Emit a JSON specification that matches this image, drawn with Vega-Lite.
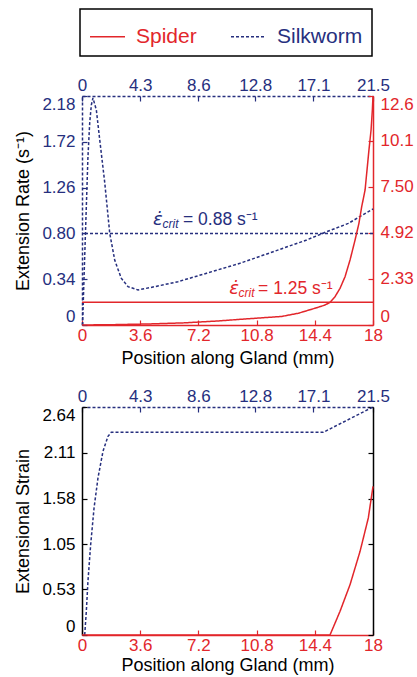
{
  "$schema": "https://vega.github.io/schema/vega-lite/v6.json",
  "padding": {"left": 14, "top": 8, "right": 2, "bottom": 1},
  "background": "white",
  "config": {
    "view": {"stroke": null},
    "font": "Liberation Sans",
    "axis": {"labelFont": "Liberation Sans", "labelFontSize": 17, "titleFont": "Liberation Sans", "titleFontSize": 18, "titleFontWeight": "normal", "titleColor": "black", "grid": false, "tickSize": -5, "domainWidth": 1.5, "tickWidth": 1.2},
    "axisX": {"titlePadding": 6},
    "axisY": {"titlePadding": 9, "labelPadding": 12, "labelFlush": true},
    "axisTop": {"labelPadding": 7},
    "axisBottom": {"labelPadding": 7}
  },
  "datasets": {
    "silkRate": [
      {"pos": 0.04, "rate": -0.12, "species": "Silkworm"},
      {"pos": 0.2, "rate": 0.57, "species": "Silkworm"},
      {"pos": 0.32, "rate": 1.07, "species": "Silkworm"},
      {"pos": 0.44, "rate": 1.57, "species": "Silkworm"},
      {"pos": 0.57, "rate": 1.91, "species": "Silkworm"},
      {"pos": 0.69, "rate": 2.09, "species": "Silkworm"},
      {"pos": 0.81, "rate": 2.16, "species": "Silkworm"},
      {"pos": 1.06, "rate": 2.04, "species": "Silkworm"},
      {"pos": 1.31, "rate": 1.74, "species": "Silkworm"},
      {"pos": 1.68, "rate": 1.31, "species": "Silkworm"},
      {"pos": 2.05, "rate": 0.8, "species": "Silkworm"},
      {"pos": 2.42, "rate": 0.53, "species": "Silkworm"},
      {"pos": 2.9, "rate": 0.35, "species": "Silkworm"},
      {"pos": 3.4, "rate": 0.265, "species": "Silkworm"},
      {"pos": 4.14, "rate": 0.232, "species": "Silkworm"},
      {"pos": 5.37, "rate": 0.265, "species": "Silkworm"},
      {"pos": 7.09, "rate": 0.315, "species": "Silkworm"},
      {"pos": 9.21, "rate": 0.4, "species": "Silkworm"},
      {"pos": 11.67, "rate": 0.5, "species": "Silkworm"},
      {"pos": 14.13, "rate": 0.616, "species": "Silkworm"},
      {"pos": 16.6, "rate": 0.734, "species": "Silkworm"},
      {"pos": 18.08, "rate": 0.817, "species": "Silkworm"},
      {"pos": 19.67, "rate": 0.9, "species": "Silkworm"},
      {"pos": 21.5, "rate": 1.045, "species": "Silkworm"}
    ],
    "spiderRate": [
      {"pos": 0, "rate": -0.26, "species": "Spider"},
      {"pos": 2, "rate": -0.24, "species": "Spider"},
      {"pos": 4.2, "rate": -0.2, "species": "Spider"},
      {"pos": 6.3, "rate": -0.14, "species": "Spider"},
      {"pos": 8.3, "rate": -0.04, "species": "Spider"},
      {"pos": 10.28, "rate": 0.09, "species": "Spider"},
      {"pos": 12.35, "rate": 0.22, "species": "Spider"},
      {"pos": 13.38, "rate": 0.4, "species": "Spider"},
      {"pos": 14.41, "rate": 0.68, "species": "Spider"},
      {"pos": 15.03, "rate": 0.86, "species": "Spider"},
      {"pos": 15.34, "rate": 1.015, "species": "Spider"},
      {"pos": 15.65, "rate": 1.33, "species": "Spider"},
      {"pos": 15.96, "rate": 1.8, "species": "Spider"},
      {"pos": 16.27, "rate": 2.45, "species": "Spider"},
      {"pos": 16.58, "rate": 3.39, "species": "Spider"},
      {"pos": 16.89, "rate": 4.51, "species": "Spider"},
      {"pos": 17.13, "rate": 5.45, "species": "Spider"},
      {"pos": 17.3, "rate": 6.38, "species": "Spider"},
      {"pos": 17.51, "rate": 7.32, "species": "Spider"},
      {"pos": 17.61, "rate": 8.26, "species": "Spider"},
      {"pos": 17.75, "rate": 9.57, "species": "Spider"},
      {"pos": 17.88, "rate": 10.69, "species": "Spider"},
      {"pos": 17.96, "rate": 11.81, "species": "Spider"},
      {"pos": 18, "rate": 12.6, "species": "Spider"}
    ],
    "silkStrain": [
      {"pos": 0.2, "strain": 0, "species": "Silkworm"},
      {"pos": 0.32, "strain": 0.274, "species": "Silkworm"},
      {"pos": 0.44, "strain": 0.622, "species": "Silkworm"},
      {"pos": 0.64, "strain": 1.046, "species": "Silkworm"},
      {"pos": 0.89, "strain": 1.47, "species": "Silkworm"},
      {"pos": 1.18, "strain": 1.818, "species": "Silkworm"},
      {"pos": 1.55, "strain": 2.127, "species": "Silkworm"},
      {"pos": 1.92, "strain": 2.3, "species": "Silkworm"},
      {"pos": 2.16, "strain": 2.347, "species": "Silkworm"},
      {"pos": 17.83, "strain": 2.347, "species": "Silkworm"},
      {"pos": 21.5, "strain": 2.64, "species": "Silkworm"}
    ],
    "spiderStrain": [
      {"pos": 0, "strain": 0, "species": "Spider"},
      {"pos": 15.34, "strain": 0, "species": "Spider"},
      {"pos": 15.96, "strain": 0.274, "species": "Spider"},
      {"pos": 16.58, "strain": 0.583, "species": "Spider"},
      {"pos": 17.2, "strain": 0.969, "species": "Spider"},
      {"pos": 17.71, "strain": 1.355, "species": "Spider"},
      {"pos": 18, "strain": 1.72, "species": "Spider"}
    ],
    "silkCrit": [{"crit": 0.8}],
    "spiderCrit": [{"crit": 1.015}],
    "silkNote": [
      {"x": 5.25, "y": 0.884, "eps": "ε̇", "sub": "", "rest": ""},
      {"x": 5.95, "y": 0.85, "eps": "", "sub": "crit", "rest": ""},
      {"x": 7.46, "y": 0.884, "eps": "", "sub": "", "rest": "= 0.88 s⁻¹"}
    ],
    "spiderNote": [
      {"x": 9.11, "y": 1.48, "eps": "ε̇", "sub": "", "rest": ""},
      {"x": 9.68, "y": 1.34, "eps": "", "sub": "crit", "rest": ""},
      {"x": 10.89, "y": 1.48, "eps": "", "sub": "", "rest": "= 1.25 s⁻¹"}
    ]
  },
  "spacing": 20,
  "resolve": {"scale": {"color": "shared", "strokeDash": "shared"}},
  "vconcat": [
    {
      "width": 291,
      "height": 229,
      "layer": [
        {
          "layer": [
            {
              "data": {"name": "silkRate"},
              "mark": {"type": "line", "strokeWidth": 1.5},
              "encoding": {
                "x": {"field": "pos", "type": "quantitative", "scale": {"domain": [0, 21.5], "nice": false, "zero": false},
                  "axis": {"orient": "top", "title": null, "values": [0, 4.3, 8.6, 12.8, 17.1, 21.5], "format": ".1~f", "labelColor": "#262f7e", "domainColor": "#262f7e", "domainDash": [3, 2], "tickColor": "#262f7e", "labelFlush": false}},
                "y": {"field": "rate", "type": "quantitative", "scale": {"domain": [-0.12, 2.18], "nice": false, "zero": false},
                  "axis": {"orient": "left", "title": "Extension Rate (s⁻¹)", "values": [-0.12, 0.34, 0.8, 1.26, 1.72, 2.18], "labelExpr": "datum.value < 0 ? '0' : format(datum.value, '.2f')", "labelColor": "#262f7e", "domainColor": "#262f7e", "domainDash": [3, 2], "tickColor": "#262f7e"}},
                "color": {"field": "species", "type": "nominal", "scale": {"domain": ["Spider", "Silkworm"], "range": ["#e2262b", "#262f7e"]},
                  "legend": {"orient": "none", "legendX": -2, "legendY": -87, "direction": "horizontal", "title": null, "strokeColor": "black", "padding": 9, "labelFontSize": 21, "labelFont": "Liberation Sans", "symbolType": "stroke", "symbolSize": 1225, "symbolStrokeWidth": 1.6, "columnPadding": 30, "labelOffset": 10,
                    "encode": {"labels": {"update": {"fill": {"signal": "datum.value === 'Spider' ? '#e2262b' : '#262f7e'"}}}, "legend": {"update": {"strokeWidth": {"value": 1.5}}}}}},
                "strokeDash": {"field": "species", "type": "nominal", "scale": {"domain": ["Spider", "Silkworm"], "range": [[1, 0], [3, 2]]}, "legend": null}
              }
            },
            {
              "data": {"name": "silkCrit"},
              "mark": {"type": "rule", "color": "#262f7e", "strokeDash": [3, 2], "strokeWidth": 1.5},
              "encoding": {"y": {"field": "crit", "type": "quantitative"}}
            },
            {
              "data": {"name": "silkNote"},
              "mark": {"type": "text", "align": "left", "baseline": "alphabetic", "font": "DejaVu Sans", "fontStyle": "italic", "fontSize": 18, "color": "#262f7e"},
              "encoding": {"x": {"field": "x", "type": "quantitative"}, "y": {"field": "y", "type": "quantitative"}, "text": {"field": "eps"}}
            },
            {
              "data": {"name": "silkNote"},
              "mark": {"type": "text", "align": "left", "baseline": "alphabetic", "fontStyle": "italic", "fontSize": 12, "color": "#262f7e"},
              "encoding": {"x": {"field": "x", "type": "quantitative"}, "y": {"field": "y", "type": "quantitative"}, "text": {"field": "sub"}}
            },
            {
              "data": {"name": "silkNote"},
              "mark": {"type": "text", "align": "left", "baseline": "alphabetic", "fontSize": 17.5, "color": "#262f7e"},
              "encoding": {"x": {"field": "x", "type": "quantitative"}, "y": {"field": "y", "type": "quantitative"}, "text": {"field": "rest"}}
            }
          ]
        },
        {
          "layer": [
            {
              "data": {"name": "spiderRate"},
              "mark": {"type": "line", "strokeWidth": 1.5},
              "encoding": {
                "x": {"field": "pos", "type": "quantitative", "scale": {"domain": [0, 18], "nice": false, "zero": false},
                  "axis": {"orient": "bottom", "title": "Position along Gland (mm)", "values": [0, 3.6, 7.2, 10.8, 14.4, 18], "format": ".1~f", "labelColor": "#e2262b", "domainColor": "#e2262b", "tickColor": "#e2262b", "labelFlush": false}},
                "y": {"field": "rate", "type": "quantitative", "scale": {"domain": [-0.26, 12.6], "nice": false, "zero": false},
                  "axis": {"orient": "right", "title": null, "values": [-0.26, 2.33, 4.92, 7.5, 10.1, 12.6], "labelExpr": "datum.value < 0 ? '0' : format(datum.value, '.3r')", "labelColor": "#e2262b", "domainColor": "#e2262b", "tickColor": "#e2262b"}},
                "color": {"field": "species", "type": "nominal"},
                "strokeDash": {"field": "species", "type": "nominal"}
              }
            },
            {
              "data": {"name": "spiderCrit"},
              "mark": {"type": "rule", "color": "#e2262b", "strokeWidth": 1.5},
              "encoding": {"y": {"field": "crit", "type": "quantitative"}}
            },
            {
              "data": {"name": "spiderNote"},
              "mark": {"type": "text", "align": "left", "baseline": "alphabetic", "font": "DejaVu Sans", "fontStyle": "italic", "fontSize": 18, "color": "#e2262b"},
              "encoding": {"x": {"field": "x", "type": "quantitative"}, "y": {"field": "y", "type": "quantitative"}, "text": {"field": "eps"}}
            },
            {
              "data": {"name": "spiderNote"},
              "mark": {"type": "text", "align": "left", "baseline": "alphabetic", "fontStyle": "italic", "fontSize": 12, "color": "#e2262b"},
              "encoding": {"x": {"field": "x", "type": "quantitative"}, "y": {"field": "y", "type": "quantitative"}, "text": {"field": "sub"}}
            },
            {
              "data": {"name": "spiderNote"},
              "mark": {"type": "text", "align": "left", "baseline": "alphabetic", "fontSize": 17.5, "color": "#e2262b"},
              "encoding": {"x": {"field": "x", "type": "quantitative"}, "y": {"field": "y", "type": "quantitative"}, "text": {"field": "rest"}}
            }
          ]
        }
      ],
      "resolve": {"scale": {"x": "independent", "y": "independent"}}
    },
    {
      "width": 291,
      "height": 228,
      "layer": [
        {
          "data": {"name": "silkStrain"},
          "mark": {"type": "line", "strokeWidth": 1.5},
          "encoding": {
            "x": {"field": "pos", "type": "quantitative", "scale": {"domain": [0, 21.5], "nice": false, "zero": false},
              "axis": {"orient": "top", "title": null, "values": [0, 4.3, 8.6, 12.8, 17.1, 21.5], "format": ".1~f", "labelColor": "#262f7e", "domainColor": "#262f7e", "domainDash": [3, 2], "tickColor": "#262f7e", "labelFlush": false}},
            "y": {"field": "strain", "type": "quantitative", "scale": {"domain": [0, 2.64], "nice": false, "zero": false},
              "axis": {"orient": "left", "title": "Extensional Strain", "values": [0, 0.53, 1.05, 1.58, 2.11, 2.64], "format": ".2~f", "labelColor": "black", "domainColor": "black", "tickColor": "black"}},
            "color": {"field": "species", "type": "nominal"},
            "strokeDash": {"field": "species", "type": "nominal"}
          }
        },
        {
          "data": {"name": "spiderStrain"},
          "mark": {"type": "line", "strokeWidth": 1.5},
          "encoding": {
            "x": {"field": "pos", "type": "quantitative", "scale": {"domain": [0, 18], "nice": false, "zero": false},
              "axis": {"orient": "bottom", "title": "Position along Gland (mm)", "values": [0, 3.6, 7.2, 10.8, 14.4, 18], "format": ".1~f", "labelColor": "#e2262b", "domainColor": "#e2262b", "tickColor": "#e2262b", "labelFlush": false, "titlePadding": 3}},
            "y": {"field": "strain", "type": "quantitative", "scale": {"domain": [0, 2.64], "nice": false, "zero": false},
              "axis": {"orient": "right", "title": null, "values": [0, 0.53, 1.05, 1.58, 2.11, 2.64], "labels": false, "domainColor": "black", "tickColor": "black"}},
            "color": {"field": "species", "type": "nominal"},
            "strokeDash": {"field": "species", "type": "nominal"}
          }
        }
      ],
      "resolve": {"scale": {"x": "independent", "y": "independent"}}
    }
  ]
}
